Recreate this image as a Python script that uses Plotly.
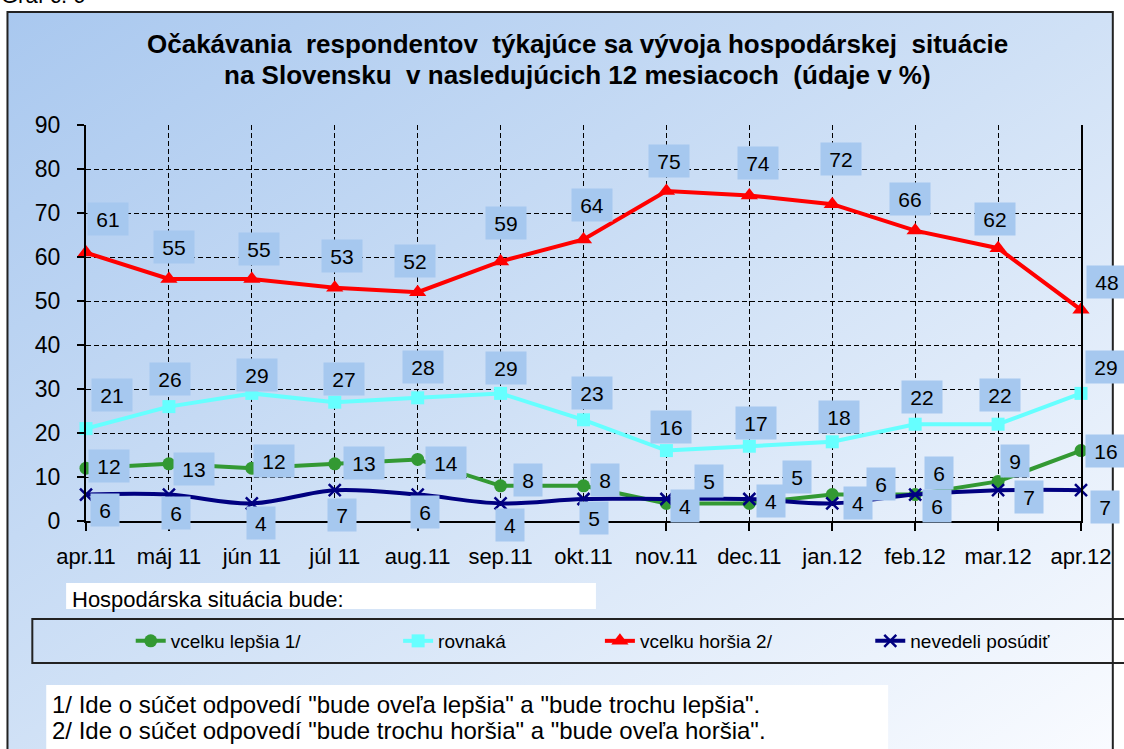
import base64
import plotly.graph_objects as go

# ---------------- data ----------------
categories = ["apr.11", "máj 11", "jún 11", "júl 11", "aug.11", "sep.11", "okt.11",
              "nov.11", "dec.11", "jan.12", "feb.12", "mar.12", "apr.12"]
lepsia = [12, 13, 12, 13, 14, 8, 8, 4, 4, 6, 6, 9, 16]
rovnaka = [21, 26, 29, 27, 28, 29, 23, 16, 17, 18, 22, 22, 29]
horsia = [61, 55, 55, 53, 52, 59, 64, 75, 74, 72, 66, 62, 48]
nevedeli = [6, 6, 4, 7, 6, 4, 5, 5, 5, 4, 6, 7, 7]
series_names = ["vcelku lepšia 1/", "rovnaká", "vcelku horšia 2/", "nevedeli posúdiť"]
y_tick_vals = [0, 10, 20, 30, 40, 50, 60, 70, 80, 90]

title_line1 = "Očakávania\u00a0 respondentov\u00a0 týkajúce sa vývoja hospodárskej\u00a0 situácie"
title_line2 = "na Slovensku\u00a0 v nasledujúcich 12 mesiacoch\u00a0 (údaje v %)"
graf_label = "Graf č. 6"
legend_heading = "Hospodárska situácia bude:"
footnote1 = "1/ Ide o súčet odpovedí \"bude oveľa lepšia\" a \"bude trochu lepšia\"."
footnote2 = "2/ Ide o súčet odpovedí \"bude trochu horšia\" a \"bude oveľa horšia\"."

# ---------------- label offsets (pixels, screen: +x right, +y down) ----------------
off_lepsia = [(23, -2), (25, 5), (22, -7), (29, -1), (28, 4), (27, -6), (21, -6),
              (19, 3), (22, -2), (49, -11), (24, -22), (17, -20), (25, 0)]
off_rovnaka = [(26, -34), (1, -28), (5, -18), (9, -23), (5, -31), (5, -25), (8, -27),
               (5, -24), (7, -23), (7, -25), (7, -27), (2, -29), (25, -26)]
off_horsia = [(22, -34), (5, -32), (7, -30), (7, -32), (-3, -31), (5, -38), (8, -34),
              (3, -30), (9, -32), (9, -45), (-5, -32), (-3, -29), (26, -28)]
off_nevedeli = [(19, 15), (7, 18), (9, 20), (7, 25), (7, 17), (9, 22), (10, 19),
                (43, -18), (48, -22), (26, 0), (22, 11), (31, 7), (24, 17)]

# ---------------- geometry ----------------
W, H = 1124, 749
L, R, T, B = 86, 1087, 125, 521
PW, PH = R - L, B - T


def xp(px):
    return (px - L) / PW


def yp(py):
    return (B - py) / PH


FONT = "Liberation Sans, Arial, sans-serif"
LABEL_BG = "#a6c8ef"

colors = ["#339933", "#66ffff", "#ff0000", "#000080"]
symbols = ["circle", "square", "triangle-up", "x-thin"]
sizes = [13, 13, 15, 12]
values = [lepsia, rovnaka, horsia, nevedeli]
offsets = [off_lepsia, off_rovnaka, off_horsia, off_nevedeli]
legend_ids = ["legend", "legend2", "legend3", "legend4"]
legend_text_x = [171, 440, 643, 915]

fig = go.Figure()
for i in range(4):
    marker = dict(symbol=symbols[i], size=sizes[i], color=colors[i])
    if symbols[i] == "x-thin":
        marker["line"] = dict(width=2.5, color=colors[i])
    fig.add_trace(go.Scatter(
        x=categories, y=values[i], name=series_names[i], mode="lines+markers",
        line=dict(color=colors[i], width=4, shape="spline" if i == 3 else "linear"),
        marker=marker, cliponaxis=False, legend=legend_ids[i],
    ))

annotations = []
for i in range(4):
    for cat, v, (dx, dy) in zip(categories, values[i], offsets[i]):
        s = str(v)
        annotations.append(dict(
            x=cat, y=v, xref="x", yref="y", text=s, showarrow=False,
            xshift=dx, yshift=-dy, bgcolor=LABEL_BG, borderpad=4,
            width=12 * len(s) + 8, height=24, align="center", valign="middle",
            font=dict(family=FONT, size=21, color="black"),
        ))

# titles and texts
annotations.append(dict(x=xp(580), y=yp(44), xref="paper", yref="paper", text="<b>%s</b>" % title_line1,
                        showarrow=False, xanchor="center", yanchor="middle",
                        font=dict(family=FONT, size=26, color="black")))
annotations.append(dict(x=xp(580), y=yp(75), xref="paper", yref="paper", text="<b>%s</b>" % title_line2,
                        showarrow=False, xanchor="center", yanchor="middle",
                        font=dict(family=FONT, size=26, color="black")))
annotations.append(dict(x=xp(-2), y=yp(-5), xref="paper", yref="paper", text=graf_label,
                        showarrow=False, xanchor="left", yanchor="middle",
                        font=dict(family=FONT, size=22, color="black")))
annotations.append(dict(x=xp(70), y=yp(599), xref="paper", yref="paper", text=legend_heading,
                        showarrow=False, xanchor="left", yanchor="middle",
                        font=dict(family=FONT, size=22, color="black")))
annotations.append(dict(x=xp(50), y=yp(704), xref="paper", yref="paper", text=footnote1,
                        showarrow=False, xanchor="left", yanchor="middle",
                        font=dict(family=FONT, size=24, color="black")))
annotations.append(dict(x=xp(50), y=yp(730), xref="paper", yref="paper", text=footnote2,
                        showarrow=False, xanchor="left", yanchor="middle",
                        font=dict(family=FONT, size=24, color="black")))

# background gradient image
svg = ('<svg xmlns="http://www.w3.org/2000/svg" width="1112" height="737" viewBox="0 0 1112 737" '
       'preserveAspectRatio="none"><defs><linearGradient id="g" x1="0" y1="0" x2="1" y2="1">'
       '<stop offset="0" stop-color="#a9c8ef"/><stop offset="0.5" stop-color="#d0e1f6"/>'
       '<stop offset="1" stop-color="#f9fbff"/></linearGradient></defs>'
       '<rect width="1112" height="737" fill="url(#g)"/></svg>')
svg_uri = "data:image/svg+xml;base64," + base64.b64encode(svg.encode()).decode()

images = [dict(source=svg_uri, xref="paper", yref="paper", x=xp(7), y=yp(12),
               sizex=1112 / PW, sizey=737 / PH, xanchor="left", yanchor="top",
               sizing="stretch", layer="below")]

shapes = [
    # outer frame
    dict(type="rect", xref="paper", yref="paper", x0=xp(7), y0=yp(12), x1=xp(1119), y1=yp(765),
         line=dict(color="#222222", width=2), fillcolor="rgba(0,0,0,0)", layer="below"),
    # heading box
    dict(type="rect", xref="paper", yref="paper", x0=xp(66), y0=yp(583), x1=xp(599), y1=yp(609),
         line=dict(width=0), fillcolor="white", layer="below"),
    # legend box
    dict(type="rect", xref="paper", yref="paper", x0=xp(32), y0=yp(619), x1=xp(1140), y1=yp(663),
         line=dict(color="#222222", width=2), fillcolor="rgba(0,0,0,0)", layer="below"),
    # footnote box
    dict(type="rect", xref="paper", yref="paper", x0=xp(46), y0=yp(685), x1=xp(893), y1=yp(765),
         line=dict(width=0), fillcolor="white", layer="below"),
]

layout_legends = {}
for lid, tx in zip(legend_ids, legend_text_x):
    layout_legends[lid] = dict(
        x=xp(tx - 40), y=yp(641), xanchor="left", yanchor="middle", xref="paper", yref="paper",
        bgcolor="rgba(0,0,0,0)", borderwidth=0, orientation="h",
        font=dict(family=FONT, size=19, color="black"),
    )

fig.update_layout(
    width=W, height=H,
    margin=dict(l=L, r=W - R, t=T, b=H - B, pad=0),
    paper_bgcolor="white", plot_bgcolor="rgba(0,0,0,0)",
    showlegend=True,
    font=dict(family=FONT, color="black"),
    annotations=annotations, shapes=shapes, images=images,
    xaxis=dict(type="category", range=[0, len(categories) - 1], showgrid=True,
               gridcolor="black", griddash="5px,3px", gridwidth=1.3,
               showline=True, linecolor="black", linewidth=2, zeroline=False,
               ticks="outside", ticklen=8, tickwidth=1.5, tickcolor="black",
               tickfont=dict(family=FONT, size=22, color="black"), ticklabelstandoff=7),
    yaxis=dict(range=[0, 90], tickvals=y_tick_vals, showgrid=True,
               gridcolor="black", griddash="5px,3px", gridwidth=1.3,
               showline=True, mirror=True, linecolor="black", linewidth=2, zeroline=False,
               ticks="outside", ticklen=7, tickwidth=1.5, tickcolor="black",
               tickfont=dict(family=FONT, size=23, color="black"), ticklabelstandoff=12),
    **layout_legends,
)

fig.write_html("out.html", config={"displayModeBar": False})

# remove the default page margin so the figure sits at the window's top-left corner
with open("out.html", "r", encoding="utf-8") as f:
    html = f.read()
html = html.replace("<head>", "<head><style>html,body{margin:0;padding:0;overflow:hidden;}</style>", 1)
with open("out.html", "w", encoding="utf-8") as f:
    f.write(html)
